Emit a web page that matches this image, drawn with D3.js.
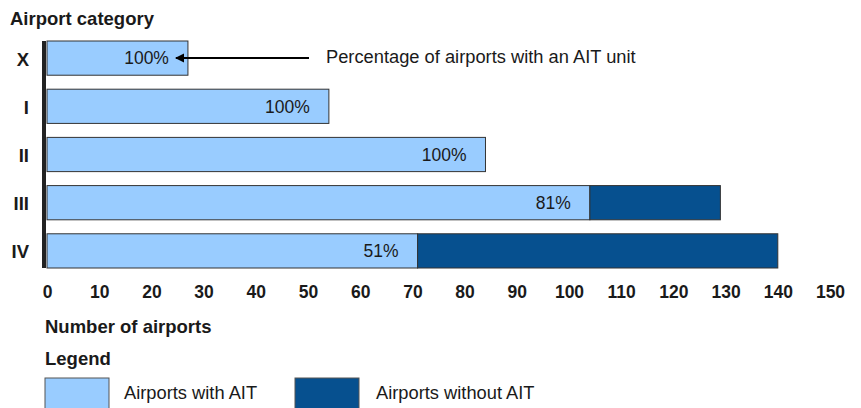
<!DOCTYPE html>
<html><head><meta charset="utf-8">
<script src="https://cdn.jsdelivr.net/npm/d3@7"></script>
<style>
body{margin:0;background:#fff;}
svg text{font-family:"Liberation Sans",Arial,sans-serif;fill:#1a1a1a;}
</style></head>
<body><svg id="c" width="861" height="408"></svg>
<script>
const categories = ["X","I","II","III","IV"];
const withAIT = [27,54,84,104,71];
const withoutAIT = [0,0,0,25,69];
const pctLabels = ["100%","100%","100%","81%","51%"];
const tickValues = [0,10,20,30,40,50,60,70,80,90,100,110,120,130,140,150];
const seriesNames = ["Airports with AIT","Airports without AIT"];
const colors = ["#99CCFF","#06508F"];

const svg = d3.select("#c");
const fsBold = 18.5, fsReg = 18.3, fsTick = 17.5, fsPct = 17.5;
const x = d3.scaleLinear().domain([0,150]).range([47,830]);
const y = d3.scaleBand().domain(categories).range([41,268]).paddingInner(0.29).paddingOuter(0);

// title
svg.append("text").attr("x",10).attr("y",25).attr("font-size",fsBold).attr("font-weight","bold").text("Airport category");

// bars
const rows = categories.map((c,i)=>({c, a:withAIT[i], b:withoutAIT[i], p:pctLabels[i]}));
const g = svg.append("g");
rows.forEach(r=>{
  g.append("rect").attr("x",x(0)).attr("y",y(r.c)).attr("width",x(r.a)-x(0)).attr("height",y.bandwidth())
    .attr("fill",colors[0]).attr("stroke","#333").attr("stroke-width",1);
  if(r.b>0){
    g.append("rect").attr("x",x(r.a)).attr("y",y(r.c)).attr("width",x(r.a+r.b)-x(r.a)).attr("height",y.bandwidth())
      .attr("fill",colors[1]).attr("stroke","#333").attr("stroke-width",1);
  }
  g.append("text").attr("x",x(r.a)-19).attr("y",y(r.c)+y.bandwidth()/2).attr("dy","0.36em")
    .attr("text-anchor","end").attr("font-size",fsPct).text(r.p);
  svg.append("text").attr("x",29).attr("y",y(r.c)+y.bandwidth()/2).attr("dy","0.4em")
    .attr("text-anchor","end").attr("font-size",fsBold).attr("font-weight","bold").text(r.c);
});

// axis bar on left
svg.append("rect").attr("x",42).attr("y",y.range()[0]).attr("width",4).attr("height",y.range()[1]-y.range()[0]).attr("fill","#222");

// x axis
const ax = svg.append("g").attr("transform","translate(0,286)")
  .call(d3.axisBottom(x).tickValues(tickValues).tickSize(0).tickPadding(0).tickFormat(d3.format("d")));
ax.select(".domain").remove();
ax.selectAll("text").attr("font-size",fsTick).attr("font-weight","bold").attr("font-family","Liberation Sans, Arial, sans-serif").attr("fill","#1a1a1a");

svg.append("text").attr("x",45).attr("y",333).attr("font-size",fsBold).attr("font-weight","bold").text("Number of airports");

// annotation arrow
const ay = 58;
svg.append("defs").append("marker").attr("id","ah").attr("viewBox","0 0 10 10").attr("refX",9).attr("refY",5)
  .attr("markerWidth",9).attr("markerHeight",10).attr("markerUnits","userSpaceOnUse").attr("orient","auto")
  .append("path").attr("d","M0,0 L10,5 L0,10 z").attr("fill","#000");
svg.append("line").attr("x1",309).attr("y1",ay).attr("x2",x(withAIT[0])-12).attr("y2",ay)
  .attr("stroke","#000").attr("stroke-width",2).attr("marker-end","url(#ah)");
svg.append("text").attr("x",326).attr("y",63).attr("font-size",fsReg).text("Percentage of airports with an AIT unit");

// legend
svg.append("text").attr("x",45).attr("y",365).attr("font-size",fsBold).attr("font-weight","bold").text("Legend");
const lx = [45,295], tx=[124,376];
seriesNames.forEach((n,i)=>{
  svg.append("rect").attr("x",lx[i]).attr("y",378).attr("width",64).attr("height",40)
    .attr("fill",colors[i]).attr("stroke","#555").attr("stroke-width",1);
  svg.append("text").attr("x",tx[i]).attr("y",399).attr("font-size",fsReg).text(n);
});
</script></body></html>
